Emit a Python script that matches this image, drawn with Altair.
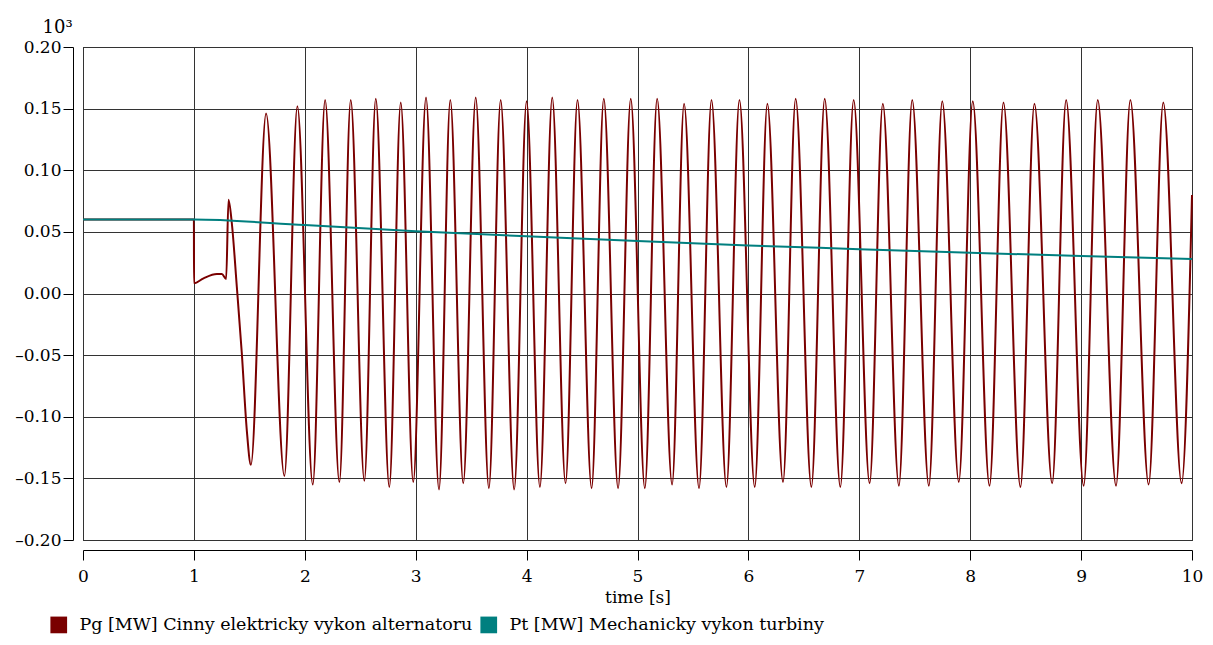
import altair as alt
import pandas as pd

PG = "Pg [MW] Cinny elektricky vykon alternatoru"
PT = "Pt [MW] Mechanicky vykon turbiny"

# Pg: initial steady state and fault transient (x in s, y in 10^3 MW)
trans_t = [0.0, 1.0, 1.001, 1.087, 1.207, 1.252, 1.291, 1.312, 1.342, 1.387, 1.432, 1.477, 10.0]
trans_v = [0.060, 0.060, 0.0083, 0.0123, 0.0158, 0.0158, 0.0118, 0.076, 0.057, 0.0055, -0.0485, -0.111, 0.080]

# Pg: oscillation maxima
peak_t = [1.651, 1.933, 2.183, 2.414, 2.640, 2.865, 3.093, 3.312, 3.541, 3.766, 4.000,
          4.231, 4.459, 4.696, 4.939, 5.177, 5.420, 5.667, 5.919, 6.171, 6.426, 6.688,
          6.949, 7.212, 7.477, 7.748, 8.023, 8.300, 8.579, 8.865, 9.150, 9.444, 9.741]
peak_v = [0.146, 0.152, 0.157, 0.157, 0.158, 0.155, 0.159, 0.157, 0.159, 0.157, 0.156,
          0.159, 0.157, 0.158, 0.158, 0.158, 0.154, 0.157, 0.157, 0.154, 0.158, 0.158,
          0.157, 0.154, 0.157, 0.156, 0.156, 0.155, 0.154, 0.157, 0.157, 0.157, 0.155]

# Pg: oscillation minima
trough_t = [1.514, 1.816, 2.072, 2.312, 2.537, 2.762, 2.978, 3.210, 3.429, 3.660, 3.888,
            4.120, 4.351, 4.586, 4.825, 5.066, 5.312, 5.555, 5.802, 6.057, 6.312, 6.568,
            6.829, 7.093, 7.357, 7.627, 7.897, 8.174, 8.453, 8.739, 9.023, 9.315, 9.609, 9.906]
trough_v = [-0.139, -0.148, -0.155, -0.153, -0.152, -0.157, -0.153, -0.159, -0.154, -0.158, -0.159,
            -0.157, -0.154, -0.158, -0.158, -0.158, -0.155, -0.158, -0.157, -0.157, -0.153, -0.157,
            -0.157, -0.154, -0.156, -0.156, -0.153, -0.156, -0.157, -0.154, -0.156, -0.156, -0.155, -0.154]

# Pt: mechanical power of the turbine
pt_t = [0, 1, 2, 3, 4, 5, 6, 7, 8, 9, 10]
pt_v = [0.060, 0.060, 0.0555, 0.0505, 0.0465, 0.0425, 0.039, 0.036, 0.033, 0.0305, 0.028]

x_ticks = list(range(0, 11))
y_ticks = [-0.20, -0.15, -0.10, -0.05, 0.0, 0.05, 0.10, 0.15, 0.20]

pg = pd.DataFrame({"t": trans_t + peak_t + trough_t, "v": trans_v + peak_v + trough_v})
pg = pg.sort_values("t").reset_index(drop=True)
pg["series"] = PG
pt = pd.DataFrame({"t": pt_t, "v": pt_v, "series": PT})
df = pd.concat([pg, pt], ignore_index=True)

FONT = "DejaVu Serif"

chart = alt.Chart(df).mark_line(strokeWidth=2, interpolate="monotone").encode(
    x=alt.X("t:Q", scale=alt.Scale(domain=[0, 10], nice=False),
            axis=alt.Axis(values=x_ticks, format="d", title="time [s]", offset=10, tickSize=10,
                          labelPadding=8, titlePadding=5, labelFlush=False)),
    y=alt.Y("v:Q", scale=alt.Scale(domain=[-0.2, 0.2], nice=False),
            axis=alt.Axis(values=y_ticks, title="10³", offset=10, tickSize=10,
                          labelExpr="replace(replace(format(datum.value, '.2f'), '\u2212', '\u2013'), '-', '\u2013')",
                          labelPadding=2, titleAngle=0, titleAlign="left", titleFontSize=18,
                          titleBaseline="alphabetic", titleX=-31, titleY=-15)),
    color=alt.Color("series:N",
                    scale=alt.Scale(domain=[PG, PT], range=["#7a0000", "#007f7f"]),
                    legend=alt.Legend(orient="none", legendX=-33, legendY=569,
                                      direction="horizontal", title=None,
                                      symbolType="square", symbolSize=25,
                                      symbolStrokeWidth=11.7, labelFontSize=17.5,
                                      labelFont=FONT, labelColor="black",
                                      labelOffset=12, columnPadding=-11, padding=0,
                                      labelLimit=800)),
    order=alt.Order("t:Q"),
).properties(
    width=1109, height=493,
    autosize=alt.AutoSizeParams(type="none"),
    padding={"left": 75, "top": 39, "right": 13, "bottom": 100},
).configure(
    font=FONT,
).configure_view(
    stroke="black", strokeWidth=1
).configure_axis(
    labelFont=FONT, labelFontSize=17, labelColor="black",
    titleFont=FONT, titleFontSize=17, titleFontWeight="normal", titleColor="black",
    domainColor="black", domainWidth=1, tickColor="black", tickWidth=1,
    grid=True, gridColor="#333333", gridWidth=1, gridOpacity=1,
)

chart.save("out.html", embed_options={"renderer": "svg", "actions": False})
